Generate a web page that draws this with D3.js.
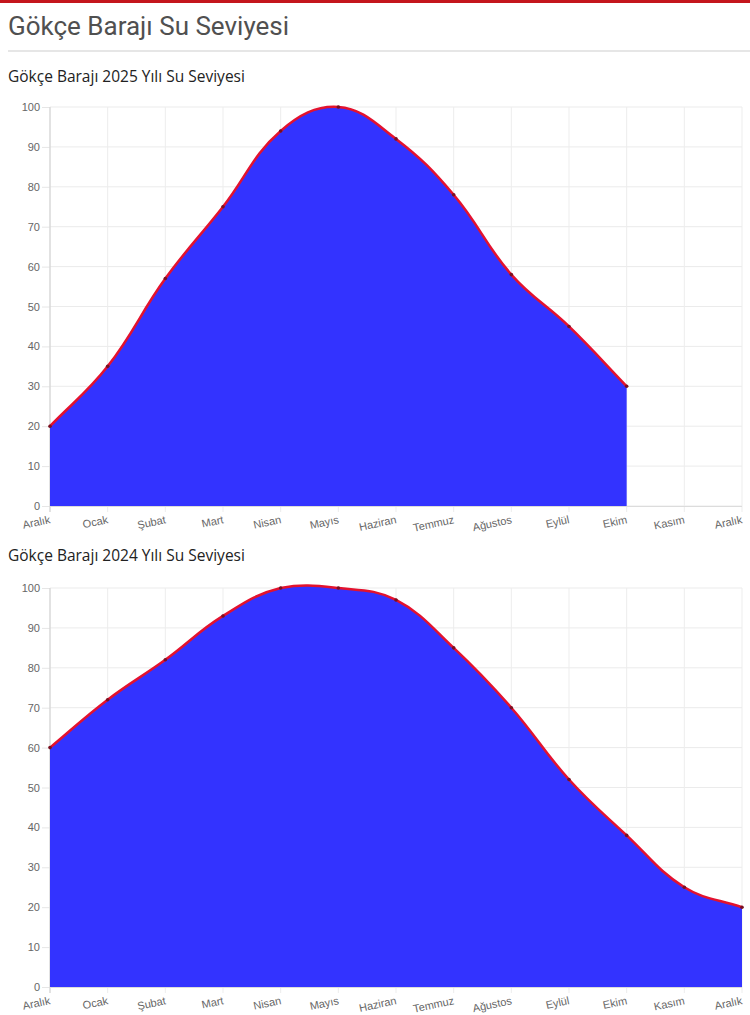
<!DOCTYPE html>
<html>
<head>
<meta charset="utf-8">
<script src="https://cdn.jsdelivr.net/npm/d3@7"></script>
<style>
  body { margin: 0; background: #fff; font-family: "Liberation Sans", Arial, sans-serif; }
  svg { display: block; }
</style>
</head>
<body>
<svg id="chart" width="750" height="1015"></svg>
<script>
"use strict";

// Category labels (shared by both charts)
const months = ["Aralık", "Ocak", "Şubat", "Mart", "Nisan", "Mayıs", "Haziran",
  "Temmuz", "Ağustos", "Eylül", "Ekim", "Kasım", "Aralık"];

// Water level (%) per month
const levels2025 = [20, 35, 57, 75, 94, 100, 92, 78, 58, 45, 30, null, null];
const levels2024 = [60, 72, 82, 93, 100, 100, 97, 85, 70, 52, 38, 25, 20];

const yTicks = [0, 10, 20, 30, 40, 50, 60, 70, 80, 90, 100];

const svg = d3.select("#chart");

// header: red strip, page title, rule
svg.append("rect").attr("x", 0).attr("y", 0).attr("width", 750).attr("height", 3).attr("fill", "#c4161c");
svg.append("text")
  .attr("x", 8).attr("y", 35)
  .style("font-family", "Roboto, 'Open Sans', sans-serif")
  .style("font-size", "26px")
  .attr("fill", "#505050")
  .text("Gökçe Barajı Su Seviyesi");
svg.append("rect").attr("x", 8).attr("y", 50).attr("width", 742).attr("height", 2).attr("fill", "#e6e6e6");

// Chart.js style spline control points (tension 0.4)
function splinePath(pts, tension, top, bottom) {
  const p = d3.path();
  const ctrl = pts.map((cur, i) => {
    const prev = pts[i - 1] || cur;
    const next = pts[i + 1] || cur;
    const d01 = Math.hypot(cur[0] - prev[0], cur[1] - prev[1]);
    const d12 = Math.hypot(next[0] - cur[0], next[1] - cur[1]);
    let s01 = d01 / (d01 + d12), s12 = d12 / (d01 + d12);
    if (isNaN(s01)) s01 = 0;
    if (isNaN(s12)) s12 = 0;
    const fa = tension * s01, fb = tension * s12;
    const clamp = (v) => Math.max(top, Math.min(bottom, v));
    return {
      px: cur[0] - fa * (next[0] - prev[0]),
      py: clamp(cur[1] - fa * (next[1] - prev[1])),
      nx: cur[0] + fb * (next[0] - prev[0]),
      ny: clamp(cur[1] + fb * (next[1] - prev[1]))
    };
  });
  p.moveTo(pts[0][0], pts[0][1]);
  for (let i = 1; i < pts.length; ++i) {
    p.bezierCurveTo(ctrl[i - 1].nx, ctrl[i - 1].ny, ctrl[i].px, ctrl[i].py, pts[i][0], pts[i][1]);
  }
  return p;
}

function drawChart(title, values, titleY, top, bottom) {
  const g = svg.append("g");

  g.append("text")
    .attr("x", 8).attr("y", titleY)
    .style("font-family", "'Open Sans', sans-serif")
    .style("font-size", "15.5px")
    .attr("fill", "#222")
    .text(title);

  const x = d3.scalePoint().domain(d3.range(months.length)).range([50, 742]);
  const y = d3.scaleLinear().domain([0, 100]).range([bottom, top]);

  // horizontal grid + y ticks
  const yAxis = d3.axisLeft(y).tickValues(yTicks).tickSize(8).tickPadding(2);
  const ya = g.append("g").attr("transform", "translate(50,0)").call(yAxis);
  ya.select(".domain").remove();
  ya.selectAll(".tick line").attr("stroke", "#e6e6e6");
  ya.selectAll(".tick text")
    .attr("fill", "#666")
    .style("font-size", "11px")
    .style("font-family", "'Liberation Sans', Arial, sans-serif");

  g.append("g").selectAll("line")
    .data(yTicks)
    .join("line")
    .attr("x1", 50).attr("x2", 742)
    .attr("y1", (d) => y(d)).attr("y2", (d) => y(d))
    .attr("stroke", "#ebebeb");

  // vertical grid
  g.append("g").selectAll("line")
    .data(d3.range(months.length))
    .join("line")
    .attr("x1", (d) => x(d)).attr("x2", (d) => x(d))
    .attr("y1", top).attr("y2", bottom + 6)
    .attr("stroke", (d) => d === 0 ? "#d9d9d9" : "#ededed")
    .attr("stroke-width", (d) => d === 0 ? 1.5 : 1);

  // data
  const pts = values
    .map((v, i) => (v == null ? null : [x(i), y(v)]))
    .filter((d) => d);

  const line = splinePath(pts, 0.4, top - 4, bottom);
  const lineStr = line.toString();
  const last = pts[pts.length - 1];
  g.append("path")
    .attr("d", lineStr + `L${last[0]},${y(0)}L${pts[0][0]},${y(0)}Z`)
    .attr("fill", "#3333ff");

  // bottom axis line
  g.append("line")
    .attr("x1", 50).attr("x2", 742)
    .attr("y1", bottom + 0.5).attr("y2", bottom + 0.5)
    .attr("stroke", "#dcdcdc");

  g.append("path")
    .attr("d", lineStr)
    .attr("fill", "none")
    .attr("stroke", "#e3122e")
    .attr("stroke-width", 2.5);

  g.append("g").selectAll("circle")
    .data(pts)
    .join("circle")
    .attr("cx", (d) => d[0]).attr("cy", (d) => d[1])
    .attr("r", 1.8)
    .attr("fill", "#7a1020");

  // rotated category labels, right-aligned at tick
  g.append("g").selectAll("text")
    .data(months)
    .join("text")
    .attr("transform", (d, i) => `translate(${x(i) + 1},${bottom + 17}) rotate(-12)`)
    .attr("text-anchor", "end")
    .attr("fill", "#666")
    .style("font-size", "11px")
    .text((d) => d);
}

drawChart("Gökçe Barajı 2025 Yılı Su Seviyesi", levels2025, 82, 107, 506);
drawChart("Gökçe Barajı 2024 Yılı Su Seviyesi", levels2024, 561, 588, 987);
</script>
</body>
</html>
